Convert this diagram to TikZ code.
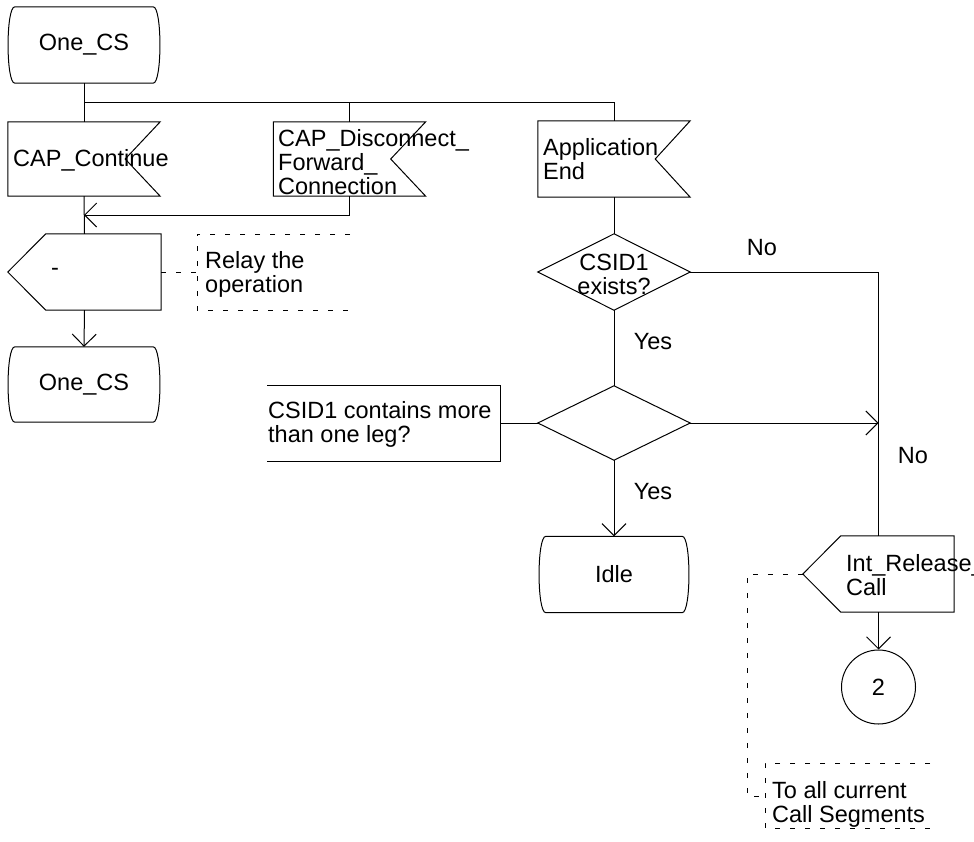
\documentclass[tikz,border=0pt]{standalone}
\usepackage{fontspec}
\setmainfont{Liberation Sans}
\usetikzlibrary{arrows.meta,calc}

\tikzset{
  x=1pt, y=-1pt,
  every node/.style={font=\fontsize{23.5}{24}\selectfont, inner sep=0pt},
  ln/.style={line width=1pt, black},
  arr/.style={ln, -{Straight Barb[length=12pt,width=24pt,line width=1pt]}},
  cmt/.style={line width=0.9pt, dash pattern=on 5pt off 10pt},
  symbox/.style={minimum width=152pt, minimum height=76pt, draw=none},
  txt/.style={align=left, anchor=west},
  ctxt/.style={align=center, anchor=center},
}

% SDL symbol outlines drawn around empty boxes
\newcommand\sdlstate[1]{%
  \draw[ln] ($(#1.north west)+(7,0)$) -- ($(#1.north east)+(-7,0)$)
    .. controls ($(#1.north east)+(2,0)$) and ($(#1.south east)+(2,0)$) .. ($(#1.south east)+(-7,0)$)
    -- ($(#1.south west)+(7,0)$)
    .. controls ($(#1.south west)+(-2,0)$) and ($(#1.north west)+(-2,0)$) .. cycle;}
\newcommand\sdlinput[1]{%
  \draw[ln] (#1.north west) -- (#1.north east) -- ($(#1.east)+(-35,0)$)
    -- (#1.south east) -- (#1.south west) -- cycle;}
\newcommand\sdloutput[1]{%
  \draw[ln] (#1.west) -- ($(#1.north west)+(38,0)$) -- (#1.north east)
    -- (#1.south east) -- ($(#1.south west)+(38,0)$) -- cycle;}
\newcommand\sdldecision[1]{%
  \draw[ln] (#1.north) -- (#1.east) -- (#1.south) -- (#1.west) -- cycle;}

\begin{document}
\begin{tikzpicture}
\useasboundingbox (0,0) rectangle (974,841);

% symbol boxes
\node[symbox] (start) at (84,45) {};
\node[symbox, minimum height=74pt] (cont) at (84,159) {};
\node[symbox, minimum height=74pt] (disc) at (349.5,159) {};
\node[symbox, minimum height=76pt] (appl) at (614,159) {};
\node[symbox, minimum width=153pt] (relay) at (84.5,272) {};
\node[symbox, minimum height=75pt] (again) at (84,384.5) {};
\node[symbox] (dec1) at (614,272) {};
\node[symbox, minimum height=74pt] (dec2) at (614,423) {};
\node[symbox, minimum width=150pt] (idle) at (614,574.5) {};
\node[symbox, minimum width=151pt] (rel) at (878.5,574) {};
\node[circle, draw, line width=1pt, minimum size=74pt] (con) at (878.5,687) {2};

\sdlstate{start}
\sdlinput{cont}
\sdlinput{disc}
\sdlinput{appl}
\sdloutput{relay}
\sdlstate{again}
\sdldecision{dec1}
\sdldecision{dec2}
\sdlstate{idle}
\sdloutput{rel}

% texts
\node[ctxt] (t-start) at (84,45) {One\_CS};
\node[txt] (t-cont) at (13,160) {CAP\_Continue};
\node[txt] (t-disc) at (278,162.5) {CAP\_Disconnect\_\\Forward\_\\Connection};
\node[txt] (t-appl) at (543,159.5) {Application\\End};
\node[ctxt] (t-relay) at (55,272) {-};
\node[ctxt] (t-again) at (84,384.5) {One\_CS};
\node[ctxt] (t-dec1) at (614,274.5) {CSID1\\exists?};
\node[ctxt] (t-idle) at (614,574.5) {Idle};
\node[txt] (t-rel) at (846,575) {Int\_Release\_\\Call};

% connectors
\coordinate (fork) at (84,102);
\coordinate (join) at (84,215);
\coordinate (merge) at (878.5,423);
\draw[ln] (start.south) -- (cont.north);
\draw[ln] (fork) -| (disc.north);
\draw[ln] (fork) -| (appl.north);
\draw[ln] (cont.south) -- (relay.north);
\draw[arr] (disc.south) |- (join);
\draw[arr] (relay.south) -- (again.north);
\draw[ln] (appl.south) -- (dec1.north);
\draw[ln] (dec1.south) -- (dec2.north);
\draw[ln] (dec1.east) -| (rel.north);
\draw[arr] (dec2.east) -- (merge);
\draw[arr] (dec2.south) -- (idle.north);
\draw[arr] (rel.south) -- (con.north);

% branch labels
\node (no1) at (762,248) {No};
\node (yes1) at (653,341.5) {Yes};
\node (no2) at (913,456) {No};
\node (yes2) at (653,492) {Yes};

% comment: relay
\coordinate (c1) at (197,272);
\draw[cmt] (relay.east) -- (c1);
\draw[cmt] (350,234) -- (197,234) -- (197,310) -- (350,310);
\node[txt] (t-c1) at (205,274) {Relay the\\operation};

% comment: decision text
\coordinate (c2) at (500,423);
\draw[ln] (c2) -- (dec2.west);
\draw[ln] (267,385) -- (500,385) -- (500,461) -- (267,461);
\node[txt] (t-c2) at (268,424.5) {CSID1 contains more\\than one leg?};

% comment: release
\coordinate (c3) at (765,796);
\draw[cmt] (rel.west) -- (747,574) -- (747,796) -- (c3);
\draw[cmt] (930,763) -- (765,763) -- (765,828) -- (930,828);
\node[txt] (t-c3) at (772,804.5) {To all current\\Call Segments};
\end{tikzpicture}
\end{document}
